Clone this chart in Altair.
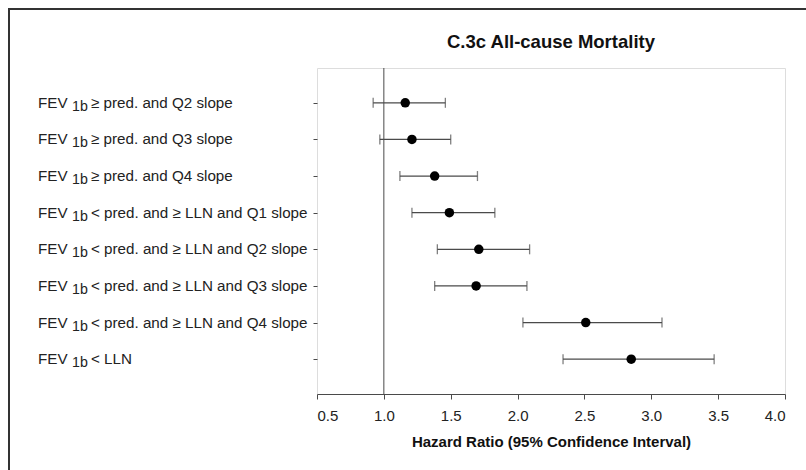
import altair as alt
import pandas as pd

prefix = "FEV"
subscript = "1b"
conditions = [
    "≥ pred. and Q2 slope",
    "≥ pred. and Q3 slope",
    "≥ pred. and Q4 slope",
    "< pred. and ≥ LLN and Q1 slope",
    "< pred. and ≥ LLN and Q2 slope",
    "< pred. and ≥ LLN and Q3 slope",
    "< pred. and ≥ LLN and Q4 slope",
    "< LLN",
]
hazard_ratio = [1.16, 1.21, 1.38, 1.49, 1.71, 1.69, 2.51, 2.85]
ci_low = [0.92, 0.97, 1.12, 1.21, 1.40, 1.38, 2.04, 2.34]
ci_high = [1.46, 1.50, 1.70, 1.83, 2.09, 2.07, 3.08, 3.47]
x_ticks = [0.5, 1.0, 1.5, 2.0, 2.5, 3.0, 3.5, 4.0]
reference = [1.0]

FONT = "Liberation Sans"
LINE = "#4a4a4a"

df = pd.DataFrame({
    "group": [f"{prefix}{subscript} {c}" for c in conditions],
    "prefix": [prefix] * len(conditions),
    "sub": [subscript] * len(conditions),
    "cond": conditions,
    "hr": hazard_ratio,
    "lo": ci_low,
    "hi": ci_high,
})
order = list(df["group"])

y_enc = alt.Y(
    "group:N", sort=order,
    scale=alt.Scale(type="point", padding=0.95),
    axis=alt.Axis(labels=False, title=None, ticks=True, tickSize=4,
                  tickColor=LINE, domain=False, grid=False),
)
x_scale = alt.Scale(domain=[0.5, 4.0], nice=False, zero=False)
x_axis = alt.Axis(
    values=x_ticks, format=".1f", grid=False,
    title="Hazard Ratio (95% Confidence Interval)",
    tickSize=5, tickColor=LINE, domainColor=LINE,
    labelFont=FONT, labelFontSize=15, labelColor="#222", labelPadding=9,
    titleFont=FONT, titleFontSize=15, titleFontWeight="bold", titleColor="#111",
    titlePadding=11,
)


def X(field):
    return alt.X(field, scale=x_scale, axis=x_axis)


base = alt.Chart(df)

ref = alt.Chart(pd.DataFrame({"ref": reference})).mark_rule(
    color=LINE, strokeWidth=1
).encode(x=X("ref:Q"))

bars = base.mark_rule(color=LINE, strokeWidth=1.3).encode(
    x=X("lo:Q"), x2="hi:Q", y=y_enc
)
cap_lo = base.mark_tick(color=LINE, size=10, thickness=1.3).encode(x=X("lo:Q"), y=y_enc)
cap_hi = base.mark_tick(color=LINE, size=10, thickness=1.3).encode(x=X("hi:Q"), y=y_enc)
dots = base.mark_circle(size=90, color="black", opacity=1).encode(x=X("hr:Q"), y=y_enc)

LAB_SIZE = 15.2
lab1 = base.mark_text(align="left", baseline="middle", font=FONT, fontSize=LAB_SIZE,
                      color="#222", clip=False).encode(
    y=y_enc, x=alt.value(-279), text="prefix:N")
lab2 = base.mark_text(align="left", baseline="middle", font=FONT, fontSize=14.2,
                      color="#222", dy=4, clip=False).encode(
    y=y_enc, x=alt.value(-245), text="sub:N")
lab3 = base.mark_text(align="left", baseline="middle", font=FONT, fontSize=LAB_SIZE,
                      color="#222", clip=False).encode(
    y=y_enc, x=alt.value(-226), text="cond:N")

frame = alt.Chart(pd.DataFrame({"ref": reference})).mark_rect(
    fill=None, stroke="#333", strokeWidth=2, clip=False
).encode(x=alt.value(-308), y=alt.value(-59), x2=alt.value(700), y2=alt.value(600))

chart = alt.layer(ref, bars, cap_lo, cap_hi, dots, lab1, lab2, lab3, frame).properties(
    width=468, height=326,
    title=alt.TitleParams("C.3c All-cause Mortality", font=FONT, fontSize=18.5,
                          fontWeight="bold", anchor="middle", frame="group",
                          color="#111", offset=-58, baseline="alphabetic"),
    autosize=alt.AutoSizeParams(type="none"),
    padding={"left": 317, "top": 68, "right": 21, "bottom": 76},
).configure_view(stroke=LINE, strokeWidth=1).configure(background="white")

chart.save("out.html", embed_options={"renderer": "svg", "actions": False})
